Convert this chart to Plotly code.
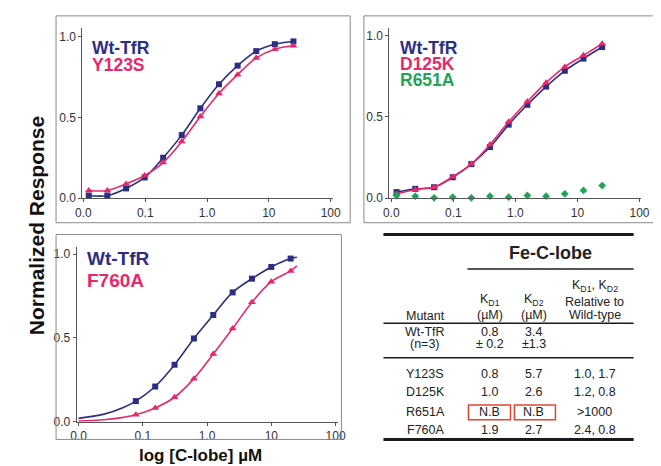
import plotly.graph_objects as go

# ---------------- data ----------------
conc_12 = [0.0122, 0.0244, 0.049, 0.098, 0.195, 0.39, 0.78, 1.56, 3.125, 6.25, 12.5, 25]
p1_wt = [0.016, 0.016, 0.06, 0.128, 0.25, 0.39, 0.556, 0.705, 0.82, 0.91, 0.953, 0.97]
p1_y123s = [0.047, 0.047, 0.088, 0.14, 0.22, 0.35, 0.505, 0.648, 0.764, 0.868, 0.922, 0.943]

p2_wt = [0.037, 0.057, 0.067, 0.128, 0.209, 0.314, 0.452, 0.574, 0.686, 0.783, 0.858, 0.929]
p2_d125k = [0.026, 0.053, 0.067, 0.132, 0.209, 0.33, 0.469, 0.594, 0.71, 0.807, 0.878, 0.949]
p2_r651a = [0.016, 0.012, 0.002, 0.006, 0.002, 0.012, 0.006, 0.016, 0.012, 0.026, 0.047, 0.077]

conc_9 = [0.078, 0.156, 0.3125, 0.625, 1.25, 2.5, 5, 10, 20]
p3_wt = [0.123, 0.21, 0.34, 0.497, 0.637, 0.772, 0.854, 0.924, 0.974]
p3_f760a = [0.041, 0.082, 0.146, 0.257, 0.404, 0.556, 0.713, 0.836, 0.90]
p3_fit_start_x = [0.01, 0.025, 0.05]
p3_fit_end_x = [25]
p3_wt_fit_start = [0.02, 0.045, 0.085]
p3_wt_fit_end = [0.982]
p3_f760a_fit_start = [0.004, 0.012, 0.026]
p3_f760a_fit_end = [0.93]

series_names = {"wt": "Wt-TfR", "y123s": "Y123S", "d125k": "D125K", "r651a": "R651A", "f760a": "F760A"}

x_tickvals = [0.01, 0.1, 1, 10, 100]
x_ticktext = ["0.0", "0.1", "1.0", "10", "100"]
y_tickvals = [0, 0.5, 1.0]
y_ticktext = ["0.0", "0.5", "1.0"]

table_title = "Fe-C-lobe"
table_mutants = ["Y123S", "D125K", "R651A", "F760A"]
table_kd1 = ["0.8", "1.0", "N.B", "1.9"]
table_kd2 = ["5.7", "2.6", "N.B", "2.7"]
table_rel = ["1.0, 1.7", "1.2, 0.8", ">1000", "2.4, 0.8"]
wt_row = {"name": "Wt-TfR", "n": "(n=3)", "kd1": "0.8", "kd1_err": "\u00b1 0.2", "kd2": "3.4", "kd2_err": "\u00b11.3"}

# ---------------- styles ----------------
W, H = 661, 466
NAVY = "#2b2e83"
PINK = "#e8286a"
GREEN = "#1fa557"
FONT = "Liberation Sans, Arial, sans-serif"
AX = "#555555"


def X(px):
    return px / W


def Y(py):
    return 1 - py / H


fig = go.Figure()


def add_series(xs, ys, color, symbol, msize, xa, ya, curve=True, cx=None, cy=None):
    if curve:
        fig.add_trace(go.Scatter(x=cx if cx is not None else xs, y=cy if cy is not None else ys,
                                 mode="lines", line=dict(color=color, width=1.6, shape="spline", smoothing=1.0),
                                 xaxis=xa, yaxis=ya, showlegend=False, hoverinfo="skip", cliponaxis=False))
    fig.add_trace(go.Scatter(x=xs, y=ys, mode="markers",
                             marker=dict(color=color, symbol=symbol, size=msize, line=dict(width=0)),
                             xaxis=xa, yaxis=ya, showlegend=False, cliponaxis=False))


# panel 1
add_series(conc_12, p1_wt, NAVY, "square", 6, "x", "y")
add_series(conc_12, p1_y123s, PINK, "triangle-up", 7, "x", "y")
# panel 2
add_series(conc_12, p2_wt, NAVY, "square", 6, "x2", "y2")
add_series(conc_12, p2_d125k, PINK, "triangle-up", 7, "x2", "y2")
add_series(conc_12, p2_r651a, GREEN, "diamond", 6, "x2", "y2", curve=False)
# panel 3
add_series(conc_9, p3_wt, NAVY, "square", 6, "x3", "y3",
           cx=p3_fit_start_x + conc_9 + p3_fit_end_x, cy=p3_wt_fit_start + p3_wt + p3_wt_fit_end)
add_series(conc_9, p3_f760a, PINK, "triangle-up", 7, "x3", "y3",
           cx=p3_fit_start_x + conc_9 + p3_fit_end_x, cy=p3_f760a_fit_start + p3_f760a + p3_f760a_fit_end)


def xaxis(dom, rng, anchor):
    return dict(domain=[X(dom[0]), X(dom[1])], type="log", range=rng, anchor=anchor,
                tickmode="array", tickvals=x_tickvals, ticktext=x_ticktext,
                showline=True, linecolor=AX, linewidth=1, ticks="outside", ticklen=3, tickcolor=AX,
                showgrid=False, zeroline=False, tickfont=dict(family=FONT, size=12, color="#333333"))


def yaxis(dom, rng, anchor):
    return dict(domain=[Y(dom[1]), Y(dom[0])], range=rng, anchor=anchor,
                tickmode="array", tickvals=y_tickvals, ticktext=y_ticktext,
                showline=True, linecolor=AX, linewidth=1, ticks="outside", ticklen=3, tickcolor=AX,
                showgrid=False, zeroline=False, tickfont=dict(family=FONT, size=12, color="#333333"))


fig.update_layout(
    width=W, height=H, margin=dict(l=0, r=0, t=0, b=0),
    paper_bgcolor="white", plot_bgcolor="white", showlegend=False,
    xaxis=xaxis((69, 325), [-2.016, 2.032], "y"),
    yaxis=yaxis((20, 193), [0, 1.055], "x"),
    xaxis2=xaxis((383, 641), [-2.031, 2.031], "y2"),
    yaxis2=yaxis((20, 193), [0, 1.048], "x2"),
    xaxis3=xaxis((63, 330), [-2.03, 2.03], "y3"),
    yaxis3=yaxis((243, 420), [0, 1.041], "x3"),
)

shapes = []
# panel frames
for (x0, y0, x1, y1) in [(42, 8, 343, 218), (357, 8, 662, 218), (42, 230, 334, 438)]:
    shapes.append(dict(type="rect", xref="paper", yref="paper", x0=X(x0), x1=X(x1), y0=Y(y1), y1=Y(y0),
                       line=dict(color="#8a8a8a", width=1), fillcolor="rgba(0,0,0,0)"))
# table rules
for (x0, x1, yy, w) in [(377, 633, 230, 3), (463, 633, 265, 1.5), (377, 633, 320, 1.5),
                        (377, 633, 355, 1.5), (377, 633, 438, 3)]:
    shapes.append(dict(type="line", xref="paper", yref="paper", x0=X(x0), x1=X(x1), y0=Y(yy), y1=Y(yy),
                       line=dict(color="#1a1a1a", width=w)))
# red boxes around N.B
for (x0, x1) in [(464, 507), (511, 553)]:
    shapes.append(dict(type="rect", xref="paper", yref="paper", x0=X(x0), x1=X(x1), y0=Y(418), y1=Y(403),
                       line=dict(color="#e0452f", width=1.5), fillcolor="rgba(0,0,0,0)"))

ann = []


def text(px, py, s, size=12.5, color="#222222", bold=False, xanchor="center", angle=0):
    ann.append(dict(xref="paper", yref="paper", x=X(px), y=Y(py), text=("<b>%s</b>" % s) if bold else s,
                    showarrow=False, xanchor=xanchor, yanchor="middle", textangle=angle,
                    borderpad=0,
                    font=dict(family=FONT, size=size, color=color)))


# legend labels
text(78, 41, series_names["wt"], 17.5, NAVY, True, "left")
text(78, 58, series_names["y123s"], 17.5, PINK, True, "left")
text(393, 41, series_names["wt"], 17.5, NAVY, True, "left")
text(393, 57, series_names["d125k"], 17.5, PINK, True, "left")
text(393, 73, series_names["r651a"], 17.5, GREEN, True, "left")
text(73, 254, series_names["wt"], 19, NAVY, True, "left")
text(73, 277, series_names["f760a"], 19, PINK, True, "left")

# axis titles
text(22, 221, "Normalized Response", 21, "#111111", True, angle=-90)
text(190, 454, "log [C-lobe] \u00b5M", 17, "#111111", True)

# table
text(548, 249, table_title, 18, "#222222", True)
cx_mut, cx_k1, cx_k2, cx_rel = 420, 486, 531, 593
text(cx_mut, 313, "Mutant")
text(cx_k1, 296, "K<sub>D1</sub>")
text(cx_k1, 312, "(\u00b5M)")
text(cx_k2, 296, "K<sub>D2</sub>")
text(cx_k2, 312, "(\u00b5M)")
text(cx_rel, 282, "K<sub>D1</sub>, K<sub>D2</sub>")
text(cx_rel, 298, "Relative to")
text(cx_rel, 312, "Wild-type")
text(cx_mut, 329, wt_row["name"])
text(cx_mut, 341, wt_row["n"])
text(cx_k1, 329, wt_row["kd1"])
text(cx_k1, 341, wt_row["kd1_err"])
text(cx_k2, 329, wt_row["kd2"])
text(cx_k2, 341, wt_row["kd2_err"])
row_y = [372, 390, 410, 428]
for i, ry in enumerate(row_y):
    text(cx_mut, ry, table_mutants[i])
    text(cx_k1, ry, table_kd1[i])
    text(cx_k2, ry, table_kd2[i])
    text(cx_rel, ry, table_rel[i])

fig.update_layout(shapes=shapes, annotations=ann)
fig.write_html("out.html")
